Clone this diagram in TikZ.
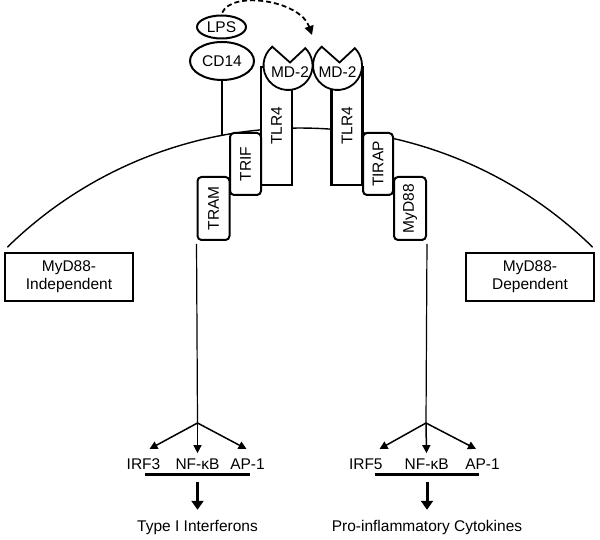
\documentclass[tikz,border=0pt]{standalone}
\usepackage{fontspec}
\setmainfont{Liberation Sans}
\usepackage{graphicx}
\usetikzlibrary{arrows.meta}
\usetikzlibrary{shapes.geometric}

\begin{document}
\begin{tikzpicture}[x=1pt,y=1pt,
  every node/.style={font=\fontsize{15.5}{18}\selectfont, inner sep=2pt},
  membrane/.style={black, line width=1.4pt},
  receptor/.style={draw=black, fill=white, line width=2.2pt, inner sep=0pt, minimum width=31pt, minimum height=118pt},
  adaptor/.style={draw=black, fill=white, line width=2pt, rounded corners=4pt, inner sep=0pt, minimum width=31pt, minimum height=62pt},
  mdcup/.style={draw=black, fill=white, line width=1.8pt},
  ligand/.style={ellipse, draw=black, fill=white, line width=2pt, inner sep=0pt},
  route/.style={draw=black, line width=2.4pt, inner sep=0pt, minimum width=128pt, minimum height=48pt, align=center},
  trunk/.style={black, line width=1.2pt},
  branch/.style={black, line width=1.5pt, -{Triangle[length=8pt,width=8pt]}},
  bar/.style={black, line width=3pt},
  outarrow/.style={black, line width=3pt, -{Triangle[length=9pt,width=12pt]}}]
\useasboundingbox (0,0) rectangle (600,540);

\draw[membrane] (300,-7) ++(134.3:419) arc (134.3:45.7:419);

\node[receptor] (tlrA) at (276.5,414) {\rotatebox{90}{TLR4}};
\node[receptor] (tlrB) at (347,414) {\rotatebox{90}{TLR4}};
\draw[mdcup] (288,474.5) ++(130:24.5) arc (130:405:24.5) -- (290,477.5) -- cycle;
\draw[mdcup] (337.5,474.5) ++(130:24.5) arc (130:405:24.5) -- (339.5,477.5) -- cycle;
\node (mdA) at (290,468.3) {MD-2};
\node (mdB) at (337.5,468.3) {MD-2};

\node[ligand, minimum width=49pt, minimum height=23pt] (LPS) at (221.5,513) {LPS};
\node[ligand, minimum width=64pt, minimum height=38pt] (CD14) at (222,479) {CD14};
\coordinate (stemfoot) at (222,405);
\draw[black, line width=2.5pt] (CD14) -- (stemfoot);
\coordinate (dock) at (312,505);
\draw[black, line width=1.8pt, dash pattern=on 5pt off 3pt, shorten <=2pt, -{Triangle[length=9pt,width=9pt]}] (LPS.north) .. controls +(10,24) and +(-12,35) .. (dock);

\node[adaptor] (TRIF) at (245.5,376) {\rotatebox{90}{TRIF}};
\node[adaptor, minimum width=32pt, minimum height=63pt] (TRAM) at (213.5,331.5) {\rotatebox{90}{TRAM}};
\node[adaptor, minimum width=30pt] (TIRAP) at (378,376) {\rotatebox{90}{TIRAP}};
\node[adaptor, minimum width=32pt, minimum height=63pt] (MyD88) at (410,331.5) {\rotatebox{90}{MyD88}};

\node[route] (indep) at (69,263) {MyD88-\\Independent};
\node[route] (dep) at (530,263) {MyD88-\\Dependent};

\coordinate (forkL) at (197.5,117);
\coordinate (forkR) at (426,117);
\draw[trunk, shorten <=3pt] (TRAM.south west) -- (forkL);
\draw[trunk, shorten <=3pt] (MyD88.south east) -- (forkR);

\node[anchor=base] (IRF3) at (143.5,70) {IRF3};
\node[anchor=base] (NFL) at (197.5,70) {NF-κB};
\node[anchor=base] (AP1L) at (247.5,70) {AP-1};
\node[anchor=base] (IRF5) at (365.8,70) {IRF5};
\node[anchor=base] (NFR) at (426.7,70) {NF-κB};
\node[anchor=base] (AP1R) at (482.5,70) {AP-1};

\coordinate (toIRF3) at (149.5,91);
\coordinate (toAP1L) at (246.5,91);
\coordinate (toIRF5) at (379.5,91);
\coordinate (toAP1R) at (476,91);
\draw[branch] (forkL) -- (toIRF3);
\draw[branch, shorten >=4pt] (forkL) -- (NFL);
\draw[branch] (forkL) -- (toAP1L);
\draw[branch] (forkR) -- (toIRF5);
\draw[branch, shorten >=4pt] (forkR) -- (NFR);
\draw[branch] (forkR) -- (toAP1R);

\draw[bar] (145,65) -- (250,65);
\draw[bar] (375,65) -- (479,65);

\node[anchor=base] (IFN) at (197.5,8.3) {Type I Interferons};
\node[anchor=base] (CYT) at (427,8.3) {Pro-inflammatory Cytokines};
\coordinate (barL) at (197.5,65);
\coordinate (barR) at (427,65);
\draw[outarrow, shorten <=7pt, shorten >=8.5pt] (barL) -- (IFN);
\draw[outarrow, shorten <=7pt, shorten >=8.5pt] (barR) -- (CYT);

\end{tikzpicture}
\end{document}
